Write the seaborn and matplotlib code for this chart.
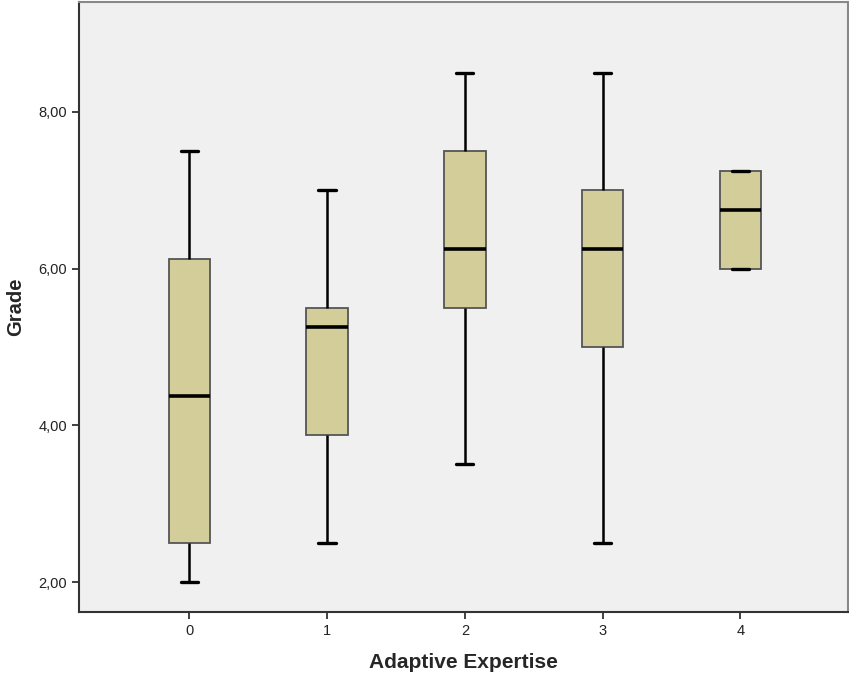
import numpy as np
import pandas as pd
import matplotlib.pyplot as plt
import seaborn as sns

# five-number summaries (min, Q1, median, Q3, max)
expertise = ["0", "1", "2", "3", "4"]
grade_min = [2.0, 2.5, 3.5, 2.5, 6.0]
grade_q1 = [2.5, 3.875, 5.5, 5.0, 6.0]
grade_median = [4.375, 5.25, 6.25, 6.25, 6.75]
grade_q3 = [6.125, 5.5, 7.5, 7.0, 7.25]
grade_max = [7.5, 7.0, 8.5, 8.5, 7.25]

rows = []
for i, lvl in enumerate(expertise):
    for v in (grade_min[i], grade_q1[i], grade_median[i], grade_q3[i], grade_max[i]):
        rows.append({"Adaptive Expertise": lvl, "Grade": v})
df = pd.DataFrame(rows)

sns.set_style("ticks")
plt.rcParams['font.family'] = ['Liberation Sans', 'DejaVu Sans']

fig = plt.figure(figsize=(8.49, 6.75), dpi=100)
ax = fig.add_axes([0.093, 0.0933, 0.9058, 0.9037])
ax.set_facecolor("#f0f0f0")

sns.boxplot(data=df, x="Adaptive Expertise", y="Grade", ax=ax,
            width=0.3, whis=(0, 100), color="#d3ce99", saturation=1,
            capwidths=0.125,
            boxprops={"edgecolor": "#555555", "linewidth": 1.3},
            whiskerprops={"color": "black", "linewidth": 1.8},
            capprops={"color": "black", "linewidth": 2.4},
            medianprops={"color": "black", "linewidth": 2.6})

ax.set_xlim(-0.8, 4.78)
ax.set_ylim(1.617, 9.4)
ax.set_yticks([2, 4, 6, 8])
ax.set_yticklabels(["2,00", "4,00", "6,00", "8,00"])

for side in ["left", "bottom"]:
    ax.spines[side].set_color("#333333")
    ax.spines[side].set_linewidth(1.5)
for side in ["top", "right"]:
    ax.spines[side].set_visible(True)
    ax.spines[side].set_color("#888888")
    ax.spines[side].set_linewidth(1.5)

ax.tick_params(axis="both", length=5, width=1.3, color="#333333",
               labelsize=10.5, labelcolor="#222222")
ax.set_xlabel("Adaptive Expertise", fontsize=15, fontweight="bold", labelpad=11)
ax.set_ylabel("Grade", fontsize=14.5, fontweight="bold", labelpad=10)

fig.savefig("out.png", dpi=100)
